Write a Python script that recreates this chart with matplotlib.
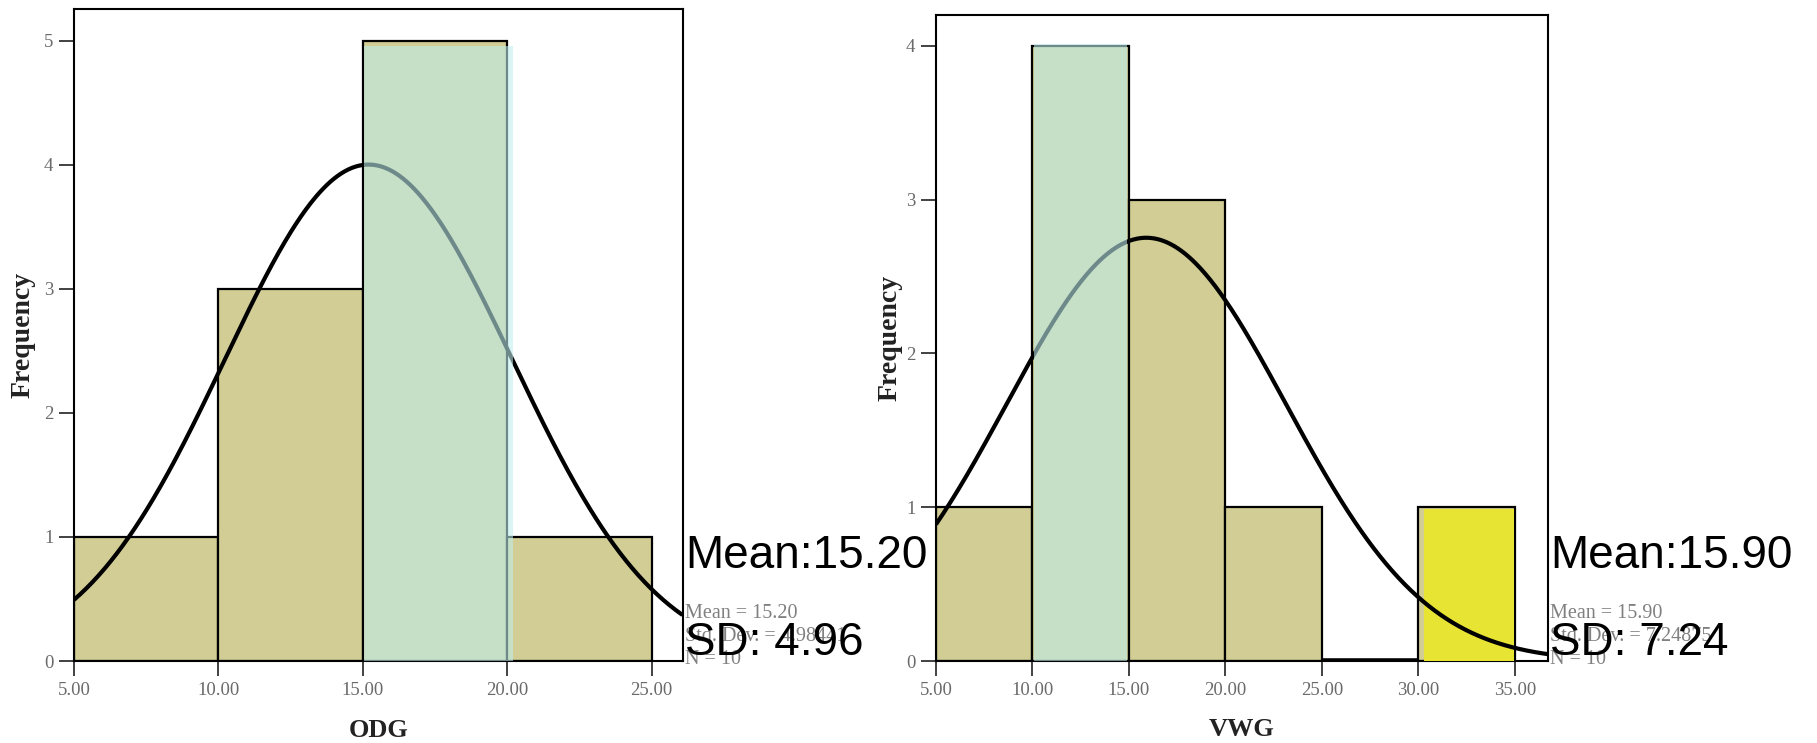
import numpy as np
import matplotlib
matplotlib.use("Agg")
import matplotlib.pyplot as plt

# ---- data ----
odg_edges = [5, 10, 15, 20, 25]
odg_counts = [1, 3, 5, 1]
odg_mean, odg_sd, odg_n = 15.20, 4.98441, 10
odg_ticks = [5, 10, 15, 20, 25]
odg_ticklabels = ["5.00", "10.00", "15.00", "20.00", "25.00"]

vwg_edges = [5, 10, 15, 20, 25, 30, 35]
vwg_counts = [1, 4, 3, 1, 0, 1]
vwg_mean, vwg_sd, vwg_n = 15.90, 7.24875, 10
vwg_ticks = [5, 10, 15, 20, 25, 30, 35]
vwg_ticklabels = ["5.00", "10.00", "15.00", "20.00", "25.00", "30.00", "35.00"]

odg_label = "ODG"
vwg_label = "VWG"
odg_note = ["Mean:15.20", "SD: 4.96"]
vwg_note = ["Mean:15.90", "SD: 7.24"]

OLIVE = "#d2cd94"
GREEN_OVER = (190 / 255, 238 / 255, 238 / 255)
YELLOW = "#e8e434"
SERIF = ["Liberation Serif", "DejaVu Serif"]
SANS = ["Liberation Sans", "DejaVu Sans"]

W, H = 1817, 743
fig = plt.figure(figsize=(W / 100, H / 100), dpi=100)


def px_axes(x0, x1, ytop, ybot):
    return fig.add_axes([x0 / W, 1 - ybot / H, (x1 - x0) / W, (ybot - ytop) / H])


def panel(ax, edges, counts, mean, sd, n, xlim, ylim, ticks, ticklabels, xlabel, ylab_x):
    edges = np.asarray(edges, float)
    widths = np.diff(edges)
    lws = [1.6 if c > 0 else 4.0 for c in counts]
    ax.bar(edges[:-1], counts, width=widths, align="edge", color=OLIVE,
           edgecolor="black", linewidth=lws, zorder=2)
    bw = widths[0]
    x = np.linspace(xlim[0], xlim[1], 500)
    y = n * bw / (sd * np.sqrt(2 * np.pi)) * np.exp(-0.5 * ((x - mean) / sd) ** 2)
    ax.plot(x, y, color="black", lw=3.0, zorder=4, solid_capstyle="butt")
    ax.set_xlim(*xlim)
    ax.set_ylim(*ylim)
    ax.set_xticks(ticks)
    ax.set_xticklabels(ticklabels)
    ax.set_yticks(range(int(ylim[1]) + 1))
    for lab in ax.get_xticklabels() + ax.get_yticklabels():
        lab.set_family(SERIF)
        lab.set_fontsize(13.5)
        lab.set_color("#6a6a6a")
    ax.tick_params(direction="out", length=10.8, width=1.3, color="#333333", pad=4)
    for s in ax.spines.values():
        s.set_linewidth(1.5)
        s.set_color("black")
    ax.set_xlabel(xlabel, family=SERIF, fontsize=19, fontweight="bold", color="#222222", va="center")
    ax.xaxis.set_label_coords(0.5, -0.106)
    ax.set_ylabel("Frequency", family=SERIF, fontsize=20, fontweight="bold", color="#222222", va="center")
    ax.yaxis.set_label_coords(ylab_x, 0.5)


ax1 = px_axes(74, 682.5, 8.5, 661)
panel(ax1, odg_edges, odg_counts, odg_mean, odg_sd, odg_n, (5, 26.07), (0, 5.26),
      odg_ticks, odg_ticklabels, odg_label, -0.083)
# highlight overlay on the 15-20 bin
ax1.bar(15.05, 4.96, width=5.15, align="edge", color=GREEN_OVER, alpha=0.58, linewidth=0, zorder=5)

ax2 = px_axes(936, 1547.5, 15, 661)
panel(ax2, vwg_edges, vwg_counts, vwg_mean, vwg_sd, vwg_n, (5, 36.7), (0, 4.20),
      vwg_ticks, vwg_ticklabels, vwg_label, -0.075)
ax2.bar(10.08, 4.01, width=4.84, align="edge", color=GREEN_OVER, alpha=0.58, linewidth=0, zorder=5)
ax2.bar(30.3, 0.985, width=4.66, align="edge", color=YELLOW, linewidth=0, zorder=3)

# small SPSS-style statistics text
def small_stats(x, mean, sd, n):
    lines = [f"Mean = {mean:.2f}", f"Std. Dev. = {sd:.5f}", f"N = {n}"]
    for i, t in enumerate(lines):
        fig.text(x / W, 1 - (618 + 23 * i) / H, t, family=SERIF, fontsize=14.5,
                 color="#808080", va="baseline", ha="left")


small_stats(685, odg_mean, odg_sd, odg_n)
small_stats(1550, vwg_mean, vwg_sd, vwg_n)

# large annotations
for x, note in [(685, odg_note), (1550, vwg_note)]:
    fig.text(x / W, 1 - 568 / H, note[0], family=SANS, fontsize=33, color="black",
             va="baseline", ha="left")
    fig.text(x / W, 1 - 655 / H, note[1], family=SANS, fontsize=33, color="black",
             va="baseline", ha="left")

fig.savefig("out.png", dpi=100)
